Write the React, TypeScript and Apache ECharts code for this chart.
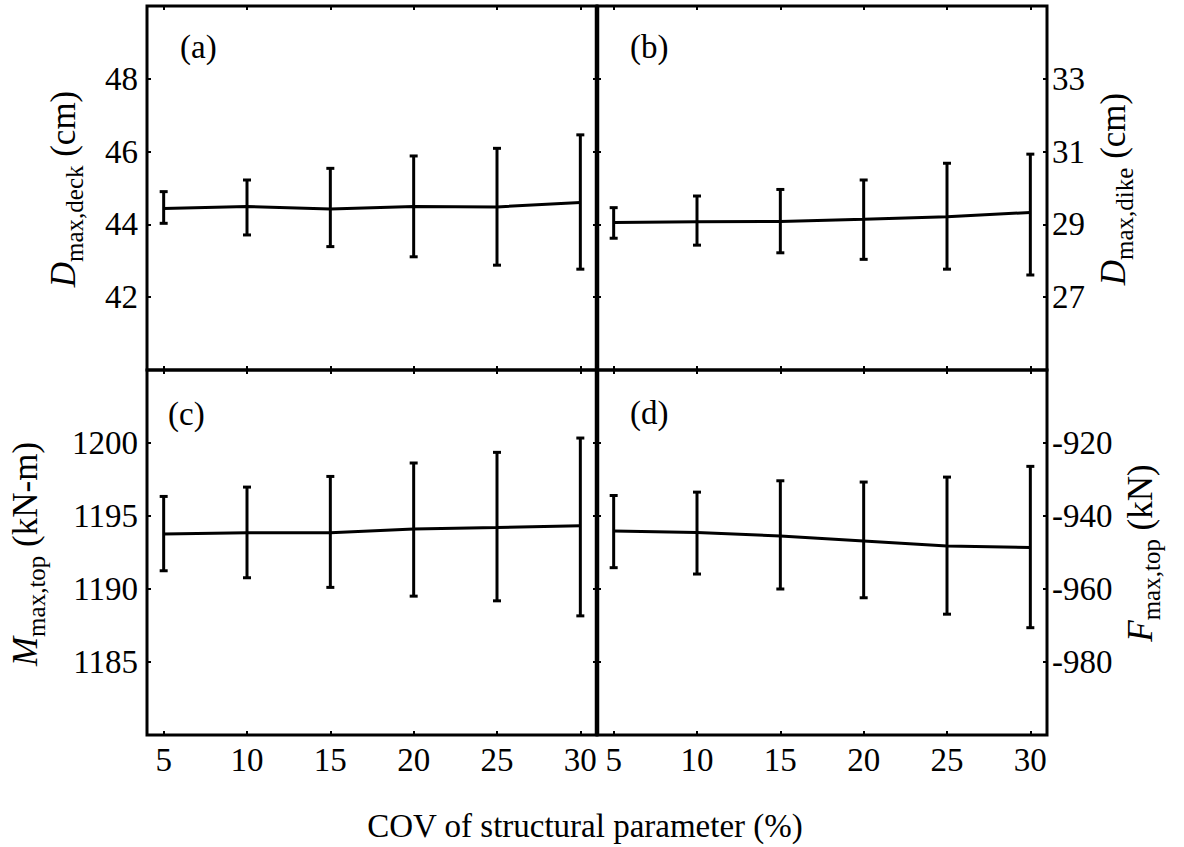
import React, { useEffect, useRef } from "react";
import * as echarts from "echarts";

// ---- data ----
const covValues = [5, 10, 15, 20, 25, 30];
const xTickValues = [5, 10, 15, 20, 25, 30];

const deckMean = [44.44, 44.49, 44.42, 44.49, 44.48, 44.6];
const deckLow = [44.03, 43.71, 43.39, 43.11, 42.88, 42.77];
const deckHigh = [44.9, 45.22, 45.54, 45.88, 46.09, 46.46];

const dikeMean = [29.05, 29.07, 29.08, 29.14, 29.21, 29.33];
const dikeLow = [28.62, 28.43, 28.22, 28.04, 27.77, 27.61];
const dikeHigh = [29.46, 29.78, 29.96, 30.22, 30.68, 30.93];

const momentMean = [1193.77, 1193.86, 1193.86, 1194.11, 1194.21, 1194.34];
const momentLow = [1191.25, 1190.77, 1190.11, 1189.51, 1189.19, 1188.16];
const momentHigh = [1196.34, 1196.98, 1197.71, 1198.63, 1199.36, 1200.34];

const forceMean = [-944.08, -944.54, -945.46, -946.83, -948.2, -948.66];
const forceLow = [-954.16, -955.9, -960.0, -962.4, -966.9, -970.6];
const forceHigh = [-934.38, -933.46, -930.35, -930.7, -929.34, -926.4];

const deckTicks = [42, 44, 46, 48];
const dikeTicks = [27, 29, 31, 33];
const momentTicks = [1185, 1190, 1195, 1200];
const forceTicks = [-980, -960, -940, -920];

const panelLetters = ["(a)", "(b)", "(c)", "(d)"];
const xAxisTitle = "COV of structural parameter (%)";

const FONT = "Liberation Serif";

function buildOption() {
  const grids = [
    { left: 147, top: 6, width: 450, height: 364 },
    { left: 597, top: 6, width: 450, height: 364 },
    { left: 147, top: 370, width: 450, height: 365 },
    { left: 597, top: 370, width: 450, height: 365 },
  ];
  const panels = [
    { mean: deckMean, low: deckLow, high: deckHigh, min: 40, max: 50, ticks: deckTicks, side: "left", showX: false },
    { mean: dikeMean, low: dikeLow, high: dikeHigh, min: 25, max: 35, ticks: dikeTicks, side: "right", showX: false },
    { mean: momentMean, low: momentLow, high: momentHigh, min: 1180, max: 1205, ticks: momentTicks, side: "left", showX: true },
    { mean: forceMean, low: forceLow, high: forceHigh, min: -1000, max: -900, ticks: forceTicks, side: "right", showX: true },
  ];

  const tickStyle = { inside: true, length: 4, lineStyle: { color: "#000", width: 2 } };
  const labelBase = {
    fontSize: 33,
    fontFamily: FONT,
    color: "#000",
    formatter: (v: number) => String(v),
  };

  const xAxis: any[] = [];
  const yAxis: any[] = [];
  const series: any[] = [];

  panels.forEach((p, i) => {
    ["bottom", "top"].forEach((pos, k) => {
      xAxis.push({
        type: "value",
        gridIndex: i,
        position: pos,
        min: 4,
        max: 31,
        axisLine: { show: false },
        splitLine: { show: false },
        axisTick: { ...tickStyle, customValues: xTickValues },
        axisLabel: { ...labelBase, show: k === 0 && p.showX, customValues: xTickValues, margin: 8 },
      });
    });
    ["left", "right"].forEach((pos) => {
      yAxis.push({
        type: "value",
        gridIndex: i,
        position: pos,
        min: p.min,
        max: p.max,
        axisLine: { show: false },
        splitLine: { show: false },
        axisTick: { ...tickStyle, customValues: p.ticks },
        axisLabel: { ...labelBase, show: pos === p.side, customValues: p.ticks, margin: pos === "left" ? 9 : 5 },
      });
    });
    series.push({
      type: "line",
      xAxisIndex: 2 * i,
      yAxisIndex: 2 * i,
      data: covValues.map((x, j) => [x, p.mean[j]]),
      symbol: "none",
      lineStyle: { color: "#000", width: 3 },
      z: 3,
    });
    series.push({
      type: "custom",
      xAxisIndex: 2 * i,
      yAxisIndex: 2 * i,
      data: covValues.map((x, j) => [x, p.low[j], p.high[j]]),
      encode: { x: 0, y: [1, 2] },
      z: 4,
      renderItem: (params: any, api: any) => {
        const x = api.value(0);
        const lo = api.coord([x, api.value(1)]);
        const hi = api.coord([x, api.value(2)]);
        const w = 4;
        const style = { stroke: "#000", lineWidth: 3 };
        return {
          type: "group",
          children: [
            { type: "line", shape: { x1: lo[0], y1: lo[1], x2: hi[0], y2: hi[1] }, style },
            { type: "line", shape: { x1: lo[0] - w, y1: lo[1], x2: lo[0] + w, y2: lo[1] }, style },
            { type: "line", shape: { x1: hi[0] - w, y1: hi[1], x2: hi[0] + w, y2: hi[1] }, style },
          ],
        };
      },
    });
  });

  const rich = {
    i: { fontStyle: "italic", fontSize: 35, fontFamily: FONT, fill: "#000" },
    s: { fontSize: 25, fontFamily: FONT, fill: "#000", verticalAlign: "bottom", lineHeight: 48 },
    n: { fontSize: 35, fontFamily: FONT, fill: "#000" },
  };
  const yName = (x: number, y: number, sym: string, sub: string, unit: string) => ({
    type: "text",
    x,
    y,
    rotation: Math.PI / 2,
    style: {
      text: `{i|${sym}}{s|${sub}}{n| ${unit}}`,
      rich,
      align: "center",
      verticalAlign: "middle",
    },
  });

  const letterPos = [
    [180, 47],
    [630, 47],
    [168, 414],
    [630, 413],
  ];

  const graphic: any[] = [
    yName(63, 189, "D", "max,deck", "(cm)"),
    yName(1113, 189, "D", "max,dike", "(cm)"),
    yName(25, 554, "M", "max,top", "(kN-m)"),
    yName(1140, 553, "F", "max,top", "(kN)"),
    {
      type: "text",
      x: 585,
      y: 826,
      style: { text: xAxisTitle, fontSize: 33, fontFamily: FONT, fill: "#000", align: "center", verticalAlign: "middle" },
    },
    ...panelLetters.map((t, i) => ({
      type: "text",
      x: letterPos[i][0],
      y: letterPos[i][1],
      style: { text: t, fontSize: 33, fontFamily: FONT, fill: "#000", align: "left", verticalAlign: "middle" },
    })),
    // thicker shared divider between the left and right panels
    {
      type: "line",
      z: 10,
      shape: { x1: 597, y1: 6, x2: 597, y2: 735 },
      style: { stroke: "#000", lineWidth: 4.5 },
    },
  ];

  return {
    animation: false,
    backgroundColor: "#fff",
    grid: grids.map((g) => ({ ...g, show: true, borderColor: "#000", borderWidth: 3, backgroundColor: "transparent" })),
    xAxis,
    yAxis,
    series,
    graphic,
  };
}

export default function App() {
  const ref = useRef<HTMLDivElement>(null);
  useEffect(() => {
    document.body.style.margin = "0";
    if (!ref.current) return;
    const chart = echarts.init(ref.current, undefined, { renderer: "svg" });
    chart.setOption(buildOption() as any);
    return () => chart.dispose();
  }, []);
  return <div ref={ref} style={{ width: 1184, height: 847 }} />;
}
